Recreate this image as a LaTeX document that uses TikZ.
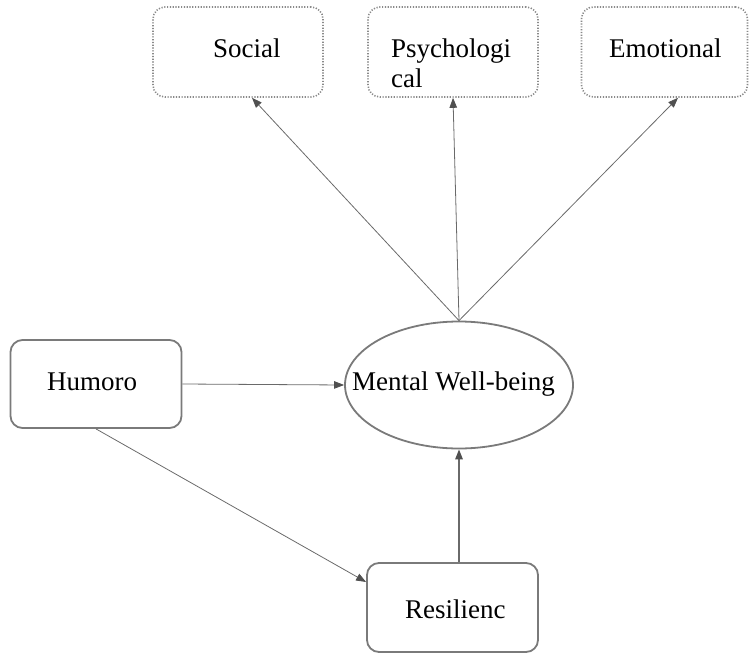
\documentclass[tikz,border=0pt]{standalone}
\usepackage{fontspec}
\setmainfont{Liberation Serif}
\usetikzlibrary{arrows.meta,shapes.geometric,calc}
\definecolor{boxgray}{HTML}{7A7A7A}
\definecolor{dotgray}{HTML}{8A8A8A}
\definecolor{linegray}{HTML}{6A6A6A}
\definecolor{tipgray}{HTML}{505050}
\tikzset{
  solidbox/.style={draw=boxgray, line width=1.8pt, rounded corners=12pt, inner sep=0pt},
  dotbox/.style={draw=dotgray, line width=1.6pt, dash pattern=on 1.2pt off 1.6pt, rounded corners=12pt, inner sep=0pt},
  lbl/.style={font=\fontsize{27}{30}\selectfont, inner sep=0pt, anchor=base west, text=black},
  conn/.style={draw=linegray, line width=0.8pt, -{Triangle[length=10pt,width=7.5pt,fill=tipgray,color=tipgray]}},
}
\begin{document}
\begin{tikzpicture}[x=1pt,y=-1pt]
\useasboundingbox (0,0) rectangle (749,655);
% boxes
\node[dotbox, minimum width=170pt, minimum height=90pt] (soc) at (238,52) {};
\node[dotbox, minimum width=170pt, minimum height=90pt] (psy) at (453,52) {};
\node[dotbox, minimum width=166pt, minimum height=90pt] (emo) at (664.5,52) {};
\node[solidbox, minimum width=171pt, minimum height=88pt] (hum) at (96,384) {};
\node[solidbox, minimum width=171pt, minimum height=89pt] (res) at (452.5,607.5) {};
\node[draw=boxgray, line width=1.8pt, ellipse, inner sep=0pt, minimum width=228pt, minimum height=127pt] (mw) at (459,385) {};
% labels
\node[lbl] (socT) at (213,58) {Social};
\node[lbl] (psyT1) at (391,58) {Psychologi};
\node[lbl] (psyT2) at (391,88) {cal};
\node[lbl] (emoT) at (609,58) {Emotional};
\node[lbl] (humT) at (47,390) {Humoro};
\node[lbl] (mwT) at (352,390) {Mental Well-being};
\node[lbl] (resT) at (405,618) {Resilienc};
% connectors
\draw[conn] (mw.north) -- ([xshift=14pt]soc.south);
\draw[conn] (mw.north) -- (psy.south);
\draw[conn] (mw.north) -- ([xshift=13.5pt]emo.south);
\draw[conn] (hum.east) -- (mw.west);
\draw[conn] (hum.south) -- ([yshift=25.5pt]res.west);
\draw[conn, line width=1.5pt] ([xshift=6.5pt]res.north) -- (mw.south);
\end{tikzpicture}
\end{document}
